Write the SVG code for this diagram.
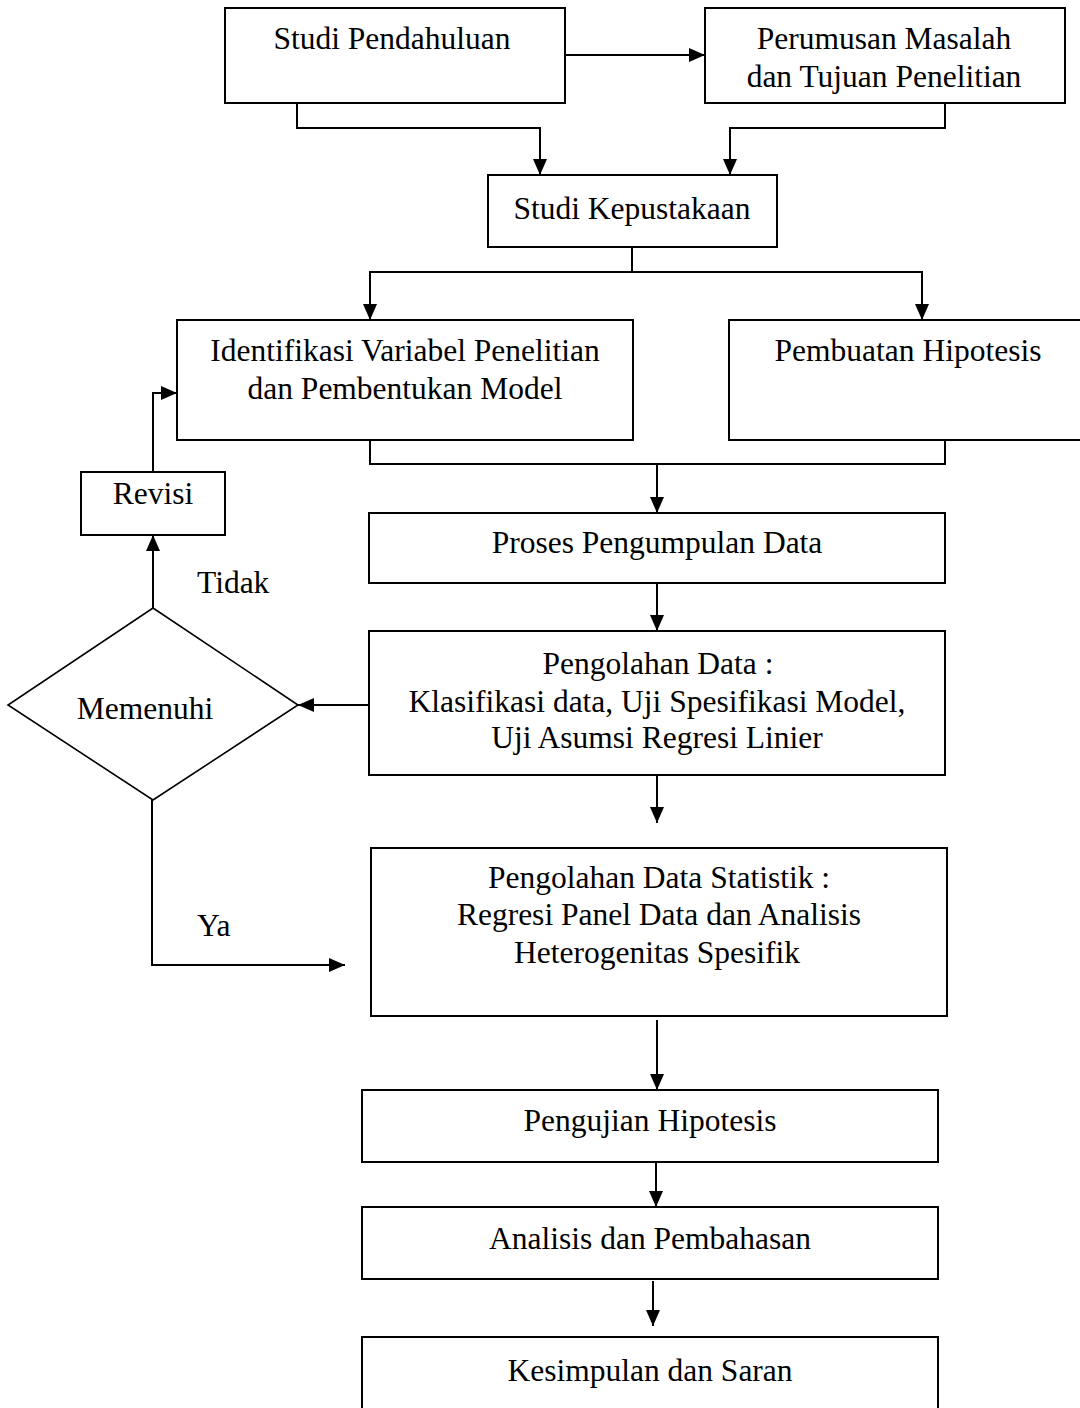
<svg xmlns="http://www.w3.org/2000/svg" width="1080" height="1408" viewBox="0 0 1080 1408">
<style>
.box{fill:#fff;stroke:#000;stroke-width:2}
.dia{fill:#fff;stroke:#000;stroke-width:1.6}
.t{font-family:"Liberation Serif","Times New Roman",serif;font-size:31.5px;fill:#000;text-anchor:middle}
.s{text-anchor:start}
.c{fill:none;stroke:#000;stroke-width:2}
</style>
<defs>
<marker id="ah" markerUnits="userSpaceOnUse" markerWidth="17" markerHeight="15" refX="16" refY="7" orient="auto">
<path d="M0,0 L16,7 L0,14 z" fill="#000"/>
</marker>
</defs>
<rect width="1080" height="1408" fill="#fff"/>
<g id="connectors">
<line class="c" x1="565" y1="55" x2="705" y2="55" marker-end="url(#ah)"/>
<polyline class="c" points="297,103 297,128 540,128 540,175" marker-end="url(#ah)"/>
<polyline class="c" points="945,103 945,128 730,128 730,175" marker-end="url(#ah)"/>
<line class="c" x1="632" y1="247" x2="632" y2="272"/>
<polyline class="c" points="370,320 370,272 922,272 922,320" marker-end="url(#ah)"/>
<line class="c" x1="370" y1="272" x2="370" y2="320" marker-end="url(#ah)"/>
<polyline class="c" points="370,440 370,464 945,464 945,440"/>
<line class="c" x1="657" y1="464" x2="657" y2="513" marker-end="url(#ah)"/>
<line class="c" x1="657" y1="583" x2="657" y2="631" marker-end="url(#ah)"/>
<line class="c" x1="369" y1="705" x2="298" y2="705" marker-end="url(#ah)"/>
<line class="c" x1="153" y1="608" x2="153" y2="535" marker-end="url(#ah)"/>
<polyline class="c" points="153,472 153,393 177,393" marker-end="url(#ah)"/>
<polyline class="c" points="152,800 152,965 345,965" marker-end="url(#ah)"/>
<line class="c" x1="657" y1="775" x2="657" y2="823" marker-end="url(#ah)"/>
<line class="c" x1="657" y1="1020" x2="657" y2="1090" marker-end="url(#ah)"/>
<line class="c" x1="656" y1="1162" x2="656" y2="1207" marker-end="url(#ah)"/>
<line class="c" x1="653" y1="1281" x2="653" y2="1326" marker-end="url(#ah)"/>
</g>
<g id="n1"><rect class="box" x="225" y="8" width="340" height="95"/><text class="t" x="392" y="49">Studi Pendahuluan</text></g>
<g id="n2"><rect class="box" x="705" y="8" width="360" height="95"/><text class="t" x="884" y="49">Perumusan Masalah</text><text class="t" x="884" y="87">dan Tujuan Penelitian</text></g>
<g id="n3"><rect class="box" x="488" y="175" width="289" height="72"/><text class="t" x="632" y="219">Studi Kepustakaan</text></g>
<g id="n4"><rect class="box" x="177" y="320" width="456" height="120"/><text class="t" x="405" y="361">Identifikasi Variabel Penelitian</text><text class="t" x="405" y="399">dan Pembentukan Model</text></g>
<g id="n5"><rect class="box" x="729" y="320" width="360" height="120"/><text class="t" x="908" y="361">Pembuatan Hipotesis</text></g>
<g id="n6"><rect class="box" x="81" y="472" width="144" height="63"/><text class="t" x="153" y="504">Revisi</text></g>
<g id="n7"><rect class="box" x="369" y="513" width="576" height="70"/><text class="t" x="657" y="553">Proses Pengumpulan Data</text></g>
<g id="n8"><rect class="box" x="369" y="631" width="576" height="144"/><text class="t" x="658" y="674">Pengolahan Data  :</text><text class="t" x="657" y="712">Klasifikasi data, Uji Spesifikasi Model,</text><text class="t" x="657" y="748">Uji Asumsi Regresi Linier</text></g>
<g id="n9"><polygon class="dia" points="153,608 298,705 153,800 8,705"/><text class="t" x="145" y="719">Memenuhi</text></g>
<g id="n10"><rect class="box" x="371" y="848" width="576" height="168"/><text class="t" x="659" y="888">Pengolahan Data Statistik :</text><text class="t" x="659" y="925">Regresi Panel Data dan Analisis</text><text class="t" x="657" y="963">Heterogenitas Spesifik</text></g>
<g id="n11"><rect class="box" x="362" y="1090" width="576" height="72"/><text class="t" x="650" y="1131">Pengujian Hipotesis</text></g>
<g id="n12"><rect class="box" x="362" y="1207" width="576" height="72"/><text class="t" x="650" y="1249">Analisis dan Pembahasan</text></g>
<g id="n13"><rect class="box" x="362" y="1337" width="576" height="80"/><text class="t" x="650" y="1381">Kesimpulan dan Saran</text></g>
<g id="labels"><text class="t s" x="197" y="593">Tidak</text><text class="t s" x="197" y="936">Ya</text></g>
</svg>
